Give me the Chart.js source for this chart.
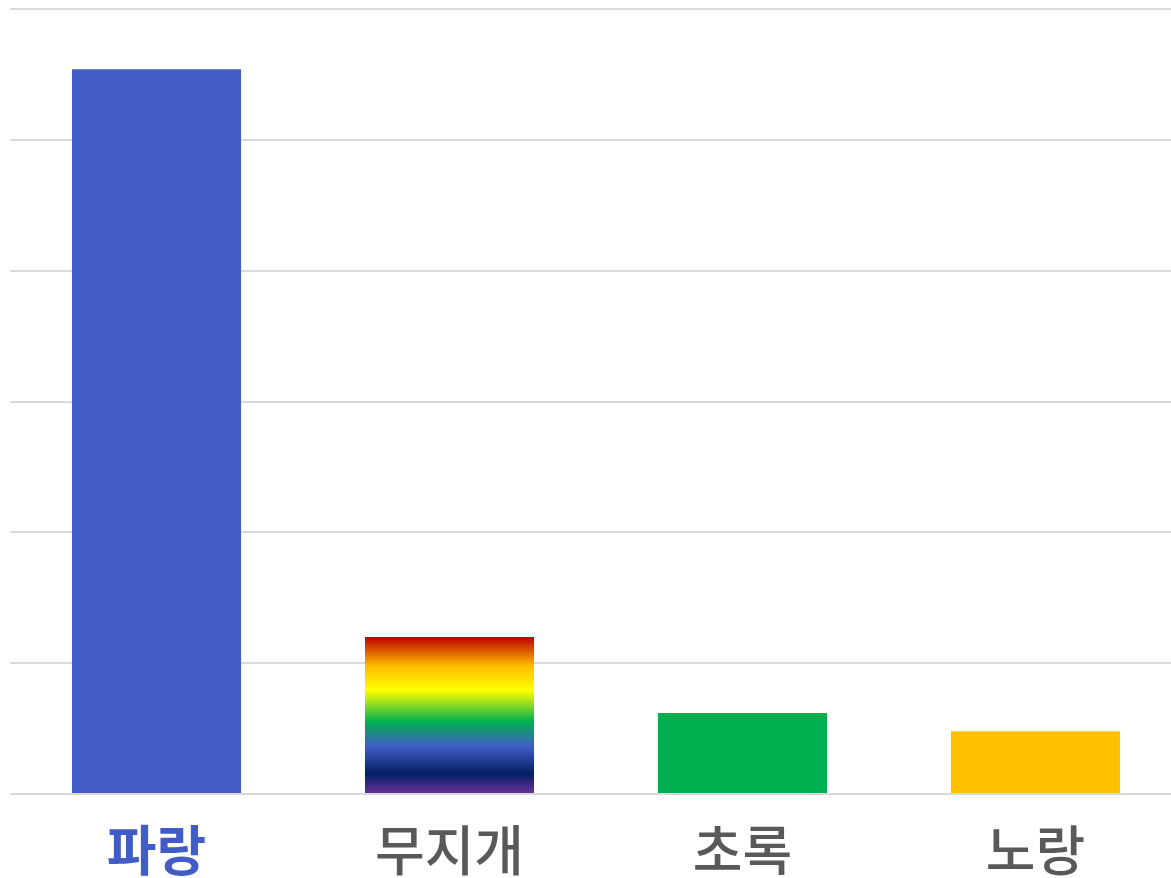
<!DOCTYPE html>
<html>
<head>
<meta charset="utf-8">
<script src="https://cdn.jsdelivr.net/npm/chart.js@4"></script>
<style>
  html, body { margin: 0; padding: 0; background: #fff; overflow: hidden; }
  #wrap { width: 1182px; height: 878px; }
</style>
</head>
<body>
<div id="wrap"><canvas id="chart"></canvas></div>
<script>
const categories = ['파랑', '무지개', '초록', '노랑'];
const values = [55.4, 12.0, 6.2, 4.8];
const barColors = ['#425CC7', null, '#00B050', '#FFC000'];
const labelColors = ['#425CC7', '#595959', '#595959', '#595959'];
const rainbowStops = [
  [0.00, '#C00000'],
  [0.19, '#FFC000'],
  [0.34, '#FFFF00'],
  [0.54, '#00B050'],
  [0.70, '#425CC7'],
  [0.87, '#002060'],
  [1.00, '#7030A0']
];

function barFill(ctx) {
  const c = barColors[ctx.dataIndex];
  if (c) return c;
  const chart = ctx.chart;
  if (!chart.chartArea) return '#FFC000';
  const y = chart.scales.y;
  const top = y.getPixelForValue(values[ctx.dataIndex]);
  const bottom = y.getPixelForValue(0);
  const g = chart.ctx.createLinearGradient(0, top, 0, bottom);
  rainbowStops.forEach(s => g.addColorStop(s[0], s[1]));
  return g;
}

new Chart(document.getElementById('chart'), {
  type: 'bar',
  data: {
    labels: categories,
    datasets: [{
      data: values,
      backgroundColor: barFill,
      borderWidth: 0,
      categoryPercentage: 1,
      barPercentage: 0.577
    }]
  },
  options: {
    responsive: true,
    maintainAspectRatio: false,
    animation: false,
    layout: { padding: { top: 9, left: 10, right: 0, bottom: 1 } },
    plugins: { legend: { display: false }, tooltip: { enabled: false } },
    scales: {
      x: {
        grid: { display: false },
        border: { display: false },
        afterFit: s => { s.height = 83; },
        ticks: {
          padding: 16,
          color: labelColors,
          font: ctx => ({
            family: '"Noto Sans CJK KR", "Noto Sans", sans-serif',
            size: 54,
            lineHeight: 1.2,
            weight: ctx.index === 0 ? 'bold' : '500'
          })
        }
      },
      y: {
        min: 0,
        max: 60,
        ticks: { display: false, stepSize: 10 },
        grid: { color: '#D9D9D9', lineWidth: 2, drawTicks: false },
        border: { display: false }
      }
    }
  }
});
</script>
</body>
</html>
